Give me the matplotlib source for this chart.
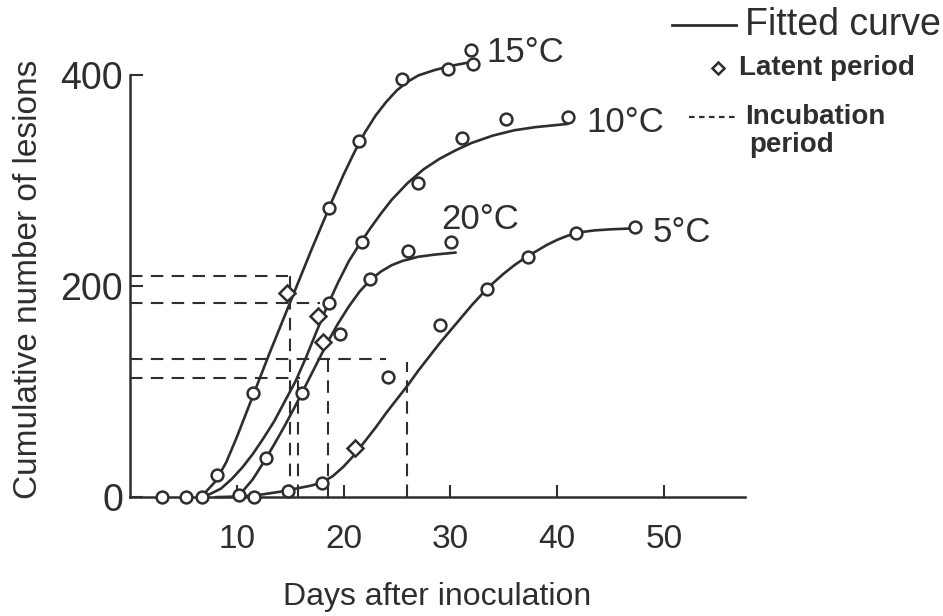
import matplotlib
matplotlib.use("Agg")
import matplotlib.pyplot as plt
from matplotlib.lines import Line2D

INK = "#2e2e2e"

# fitted curves (day, cumulative lesions)
curve_15_x = [6.3, 7.0, 8.0, 9.0, 10.0, 11.0, 12.0, 13.0, 14.0, 15.0, 16.0, 17.0, 18.0, 19.0,
              20.0, 21.0, 22.0, 23.0, 24.0, 25.0, 26.0, 27.0, 28.5, 30.0, 32.1]
curve_15_y = [0, 4, 15, 33, 57, 83, 109, 135, 160, 185, 210, 235, 259, 283,
              306, 327, 346, 362, 375, 386, 394, 400, 405, 409, 413]

curve_10_x = [6.5, 7.5, 8.5, 9.5, 10.5, 11.5, 12.5, 13.5, 14.5, 15.5, 16.5, 17.5, 18.5, 19.5,
              20.5, 21.5, 22.5, 23.5, 24.5, 26.0, 27.5, 29.0, 30.5, 32.0, 34.0, 36.0, 38.0, 41.0]
curve_10_y = [0, 3, 8, 17, 28, 41, 56, 72, 91, 110, 133, 158, 182, 204,
              224, 240, 255, 269, 282, 298, 311, 321, 329, 336, 343, 348, 351, 354]

curve_20_x = [9.5, 10.5, 11.5, 12.5, 13.5, 14.5, 15.5, 16.5, 17.5, 18.5, 19.5, 20.5, 21.5,
              22.5, 23.5, 24.5, 25.5, 27.0, 28.5, 30.5]
curve_20_y = [0, 5, 17, 33, 50, 68, 87, 107, 127, 147, 165, 181, 195,
              206, 214, 220, 224, 228, 230, 232]

curve_5_x = [8.0, 10.0, 12.0, 14.0, 16.0, 17.0, 18.0, 19.0, 20.0, 21.0, 22.0, 23.0, 24.0, 25.0,
             26.0, 27.0, 28.0, 29.0, 30.0, 31.0, 32.0, 33.0, 34.0, 35.0, 36.0, 37.0, 38.0,
             39.0, 40.0, 41.0, 42.0, 43.5, 45.0, 47.3]
curve_5_y = [0, 0.5, 2, 5, 9, 11, 14, 20, 29, 40, 53, 66, 80, 93,
             106, 120, 133, 146, 158, 170, 182, 193, 203, 212, 220, 227, 233,
             239, 244, 248, 251, 253, 254, 255]

# observed lesion counts
obs_15_x = [3.0, 5.2, 6.7, 8.1, 11.5, 18.6, 21.4, 25.5, 29.8, 32.1, 31.9]
obs_15_y = [0, 0, 0, 21, 99, 274, 338, 397, 406, 411, 424]
obs_10_x = [18.6, 21.7, 27.0, 31.1, 35.2, 41.0]
obs_10_y = [184, 242, 298, 341, 359, 361]
obs_20_x = [10.2, 12.7, 16.1, 19.7, 22.5, 26.0, 30.1]
obs_20_y = [2, 37, 99, 155, 207, 233, 242]
obs_5_x = [11.6, 14.8, 18.0, 24.2, 29.0, 33.4, 37.3, 41.8, 47.3]
obs_5_y = [0, 6, 13, 114, 163, 197, 228, 251, 256]

# latent period (diamonds)
latent_x = [14.7, 17.6, 18.1, 21.1]
latent_y = [194, 172, 147, 47]

# incubation period dashed guides
inc_h_y = [210, 184, 131, 113]
inc_h_end = [14.8, 17.8, 24.0, 15.9]
inc_v_x = [15.0, 15.7, 18.5, 25.9]
inc_v_top = [210, 113, 131, 128]

temp_labels = ["15\u00b0C", "10\u00b0C", "20\u00b0C", "5\u00b0C"]
label_x = [33.4, 42.7, 29.1, 48.9]
label_y = [422, 355, 263, 251]

fig = plt.figure(figsize=(9.43, 6.16), dpi=100)
ax = fig.add_axes([0.138, 0.193, 0.652, 0.753])

for cx, cy in [(curve_15_x, curve_15_y), (curve_10_x, curve_10_y),
               (curve_20_x, curve_20_y), (curve_5_x, curve_5_y)]:
    ax.plot(cx, cy, color=INK, lw=1.9, solid_capstyle="round", solid_joinstyle="round", clip_on=False)

for ox, oy in [(obs_15_x, obs_15_y), (obs_10_x, obs_10_y),
               (obs_20_x, obs_20_y), (obs_5_x, obs_5_y)]:
    ax.plot(ox, oy, "o", ms=8.5, mfc="white", mec=INK, mew=1.8, clip_on=False, zorder=4)

ax.plot(latent_x, latent_y, "D", ms=8.5, mfc="white", mec=INK, mew=1.8, clip_on=False, zorder=4)

for hy, he in zip(inc_h_y, inc_h_end):
    ax.plot([0, he], [hy, hy], color=INK, lw=1.5, ls=(0, (6, 4)), zorder=1)
for vx, vt in zip(inc_v_x, inc_v_top):
    ax.plot([vx, vx], [0, vt], color=INK, lw=1.5, ls=(0, (6, 4)), zorder=1)

for t, lx, ly in zip(temp_labels, label_x, label_y):
    ax.text(lx, ly, t, fontsize=25, color=INK, family="Liberation Sans", va="center", ha="left")

ax.set_xlim(0, 57.6)
ax.set_ylim(0, 440)
for s in ["top", "right"]:
    ax.spines[s].set_visible(False)
ax.spines["left"].set_bounds(0, 400)
for s in ["left", "bottom"]:
    ax.spines[s].set_color(INK)
    ax.spines[s].set_linewidth(1.8)

ax.set_xticks([10, 20, 30, 40, 50])
ax.set_yticks([0, 200, 400])
ax.tick_params(axis="x", direction="in", length=9, width=1.5, colors=INK, pad=19, labelsize=24)
ax.tick_params(axis="y", direction="in", length=9, width=1.5, colors=INK, pad=5, labelsize=27)
for lab in ax.get_xticklabels():
    lab.set_family(["Liberation Sans Narrow", "Liberation Sans"])
for lab in ax.get_yticklabels():
    lab.set_family("Liberation Sans")

ax.set_xlabel("Days after inoculation", fontsize=23, color=INK, labelpad=20,
              family=["Liberation Sans Narrow", "Liberation Sans"])
ax.set_ylabel("Cumulative number of lesions", fontsize=24, color=INK, family="Liberation Sans")
ax.yaxis.set_label_coords(-0.14, 0.47)

# legend drawn by hand, top right
fig.add_artist(Line2D([0.713, 0.780], [0.959, 0.959], color=INK, lw=2, transform=fig.transFigure))
fig.text(0.790, 0.959, "Fitted curve", fontsize=27, color=INK, va="center", family="Liberation Sans")
fig.add_artist(Line2D([0.761], [0.890], marker="D", ms=6, mfc="white", mec=INK, mew=1.8,
                      transform=fig.transFigure))
fig.text(0.784, 0.890, "Latent period", fontsize=20, fontweight="bold", color=INK, va="center",
         family="Liberation Sans")
fig.add_artist(Line2D([0.731, 0.781], [0.810, 0.810], color=INK, lw=1.6, ls=(0, (2.5, 2)),
                      transform=fig.transFigure))
fig.text(0.790, 0.810, "Incubation", fontsize=20, fontweight="bold", color=INK, va="center",
         family="Liberation Sans")
fig.text(0.795, 0.765, "period", fontsize=20, fontweight="bold", color=INK, va="center",
         family="Liberation Sans")

fig.savefig("out.png", dpi=100, facecolor="white")
